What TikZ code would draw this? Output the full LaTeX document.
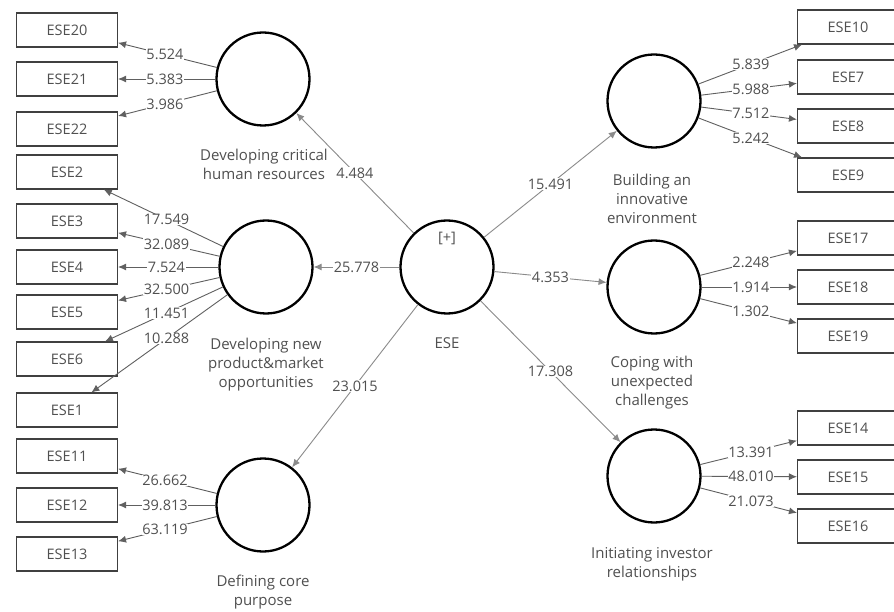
\documentclass[tikz,border=0pt]{standalone}
\usepackage{fontspec}
\setmainfont{Open Sans}
\usetikzlibrary{calc,arrows.meta}
\definecolor{txt}{HTML}{505050}
\definecolor{ln}{HTML}{606060}
\definecolor{lnl}{HTML}{8A8A8A}
\tikzset{
  ind/.style={draw=black!75, line width=1.1pt, minimum width=101pt, minimum height=34pt, inner sep=0pt, font=\fontsize{14.5}{16}\selectfont, text=txt},
  lv/.style={circle, draw=black, line width=2.3pt, minimum size=93pt, inner sep=0pt},
  lbl/.style={fill=white, inner sep=0.6pt, font=\fontsize{14.5}{16}\selectfont, text=txt},
  clbl/.style={align=center, font=\fontsize{15}{19}\selectfont, text=txt},
  arr/.style={draw=ln, line width=0.9pt, -{Latex[length=8pt,width=7pt]}},
  arrl/.style={draw=lnl, line width=0.9pt, -{Latex[length=8pt,width=7pt]}},
}
\newcommand\myedge[4][arr]{\draw[#1] (#2) -- (#3); \node[lbl] at ($(#2.center)!0.5!(#3.center)$) {#4};}
\begin{document}
\begin{tikzpicture}[x=1pt,y=-1pt]
\useasboundingbox[fill=white] (0,0) rectangle (894,612);
% left indicators
\node[ind] (b20) at (67,30) {ESE20};
\node[ind] (b21) at (67,79) {ESE21};
\node[ind] (b22) at (67,129) {ESE22};
\node[ind] (b2) at (67,172) {ESE2};
\node[ind] (b3) at (67,221) {ESE3};
\node[ind] (b4) at (67,267) {ESE4};
\node[ind] (b5) at (67,312) {ESE5};
\node[ind] (b6) at (67,359) {ESE6};
\node[ind] (b1) at (67,410) {ESE1};
\node[ind] (b11) at (67,456) {ESE11};
\node[ind] (b12) at (67,505) {ESE12};
\node[ind] (b13) at (67,554) {ESE13};
% right indicators
\node[ind] (b10) at (848,27) {ESE10};
\node[ind] (b7) at (848,77) {ESE7};
\node[ind] (b8) at (848,126) {ESE8};
\node[ind] (b9) at (848,175) {ESE9};
\node[ind] (b17) at (848,238) {ESE17};
\node[ind] (b18) at (848,287) {ESE18};
\node[ind] (b19) at (848,336) {ESE19};
\node[ind] (b14) at (848,428) {ESE14};
\node[ind] (b15) at (848,477) {ESE15};
\node[ind] (b16) at (848,526) {ESE16};
% latent variables
\node[lv] (hr) at (263,79) {};
\node[lv] (np) at (266,267) {};
\node[lv] (cp) at (263,505) {};
\node[lv] (ese) at (447,267) {};
\node[lv] (bi) at (654,101) {};
\node[lv] (cw) at (654,287) {};
\node[lv] (ii) at (654,476) {};
\node[font=\fontsize{14.5}{16}\selectfont, text=txt] (plus) at (447,238) {[+]};
% construct labels
\node[clbl] (hrl) at (264,164.5) {Developing critical\\human resources};
\node[clbl] (npl) at (266,364.5) {Developing new\\product\&market\\opportunities};
\node[clbl] (cpl) at (263,592.5) {Defining core\\purpose};
\node[clbl] (esel) at (447,343) {ESE};
\node[clbl] (bil) at (652,199) {Building an\\innovative\\environment};
\node[clbl] (cwl) at (652,383) {Coping with\\unexpected\\challenges};
\node[clbl] (iil) at (652,564.5) {Initiating investor\\relationships};
% structural paths
\myedge[arrl]{ese}{hr}{4.484}
\myedge[arrl]{ese}{np}{25.778}
\myedge[arrl]{ese}{cp}{23.015}
\myedge[arrl]{ese}{bi}{15.491}
\myedge[arrl]{ese}{cw}{4.353}
\myedge[arrl]{ese}{ii}{17.308}
% outer loadings
\myedge{hr}{b20}{5.524}
\myedge{hr}{b21}{5.383}
\myedge{hr}{b22}{3.986}
\myedge{np}{b2}{17.549}
\myedge{np}{b3}{32.089}
\myedge{np}{b4}{7.524}
\myedge{np}{b5}{32.500}
\myedge{np}{b6}{11.451}
\myedge{np}{b1}{10.288}
\myedge{cp}{b11}{26.662}
\myedge{cp}{b12}{39.813}
\myedge{cp}{b13}{63.119}
\myedge{bi}{b10}{5.839}
\myedge{bi}{b7}{5.988}
\myedge{bi}{b8}{7.512}
\myedge{bi}{b9}{5.242}
\myedge{cw}{b17}{2.248}
\myedge{cw}{b18}{1.914}
\myedge{cw}{b19}{1.302}
\myedge{ii}{b14}{13.391}
\myedge{ii}{b15}{48.010}
\myedge{ii}{b16}{21.073}
\end{tikzpicture}
\end{document}
